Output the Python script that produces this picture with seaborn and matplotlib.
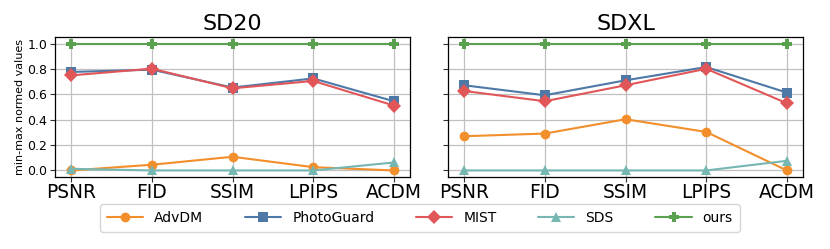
import numpy as np
import pandas as pd
import matplotlib
matplotlib.use("Agg")
import matplotlib.pyplot as plt
import seaborn as sns

# --- data ---
metrics = ["PSNR", "FID", "SSIM", "LPIPS", "ACDM"]
methods = ["AdvDM", "PhotoGuard", "MIST", "SDS", "ours"]

sd20_advdm = [0.0, 0.045, 0.108, 0.026, 0.0]
sd20_photoguard = [0.777, 0.795, 0.654, 0.726, 0.546]
sd20_mist = [0.750, 0.803, 0.648, 0.706, 0.512]
sd20_sds = [0.013, 0.0, 0.0, 0.0, 0.063]
sd20_ours = [1.0, 1.0, 1.0, 1.0, 1.0]

sdxl_advdm = [0.270, 0.291, 0.404, 0.304, 0.0]
sdxl_photoguard = [0.672, 0.593, 0.711, 0.816, 0.614]
sdxl_mist = [0.627, 0.546, 0.672, 0.802, 0.530]
sdxl_sds = [0.0, 0.0, 0.0, 0.0, 0.076]
sdxl_ours = [1.0, 1.0, 1.0, 1.0, 1.0]

colors = ["#f28e2b", "#4e79a7", "#e15759", "#76b7b2", "#59a14f"]
markers = ["o", "s", "D", "^", "P"]

panels = {
    "SD20": [sd20_advdm, sd20_photoguard, sd20_mist, sd20_sds, sd20_ours],
    "SDXL": [sdxl_advdm, sdxl_photoguard, sdxl_mist, sdxl_sds, sdxl_ours],
}

sns.set_style("ticks")
plt.rcParams["font.family"] = ["DejaVu Sans"]
plt.rcParams["text.color"] = "black"
plt.rcParams["axes.labelcolor"] = "black"
plt.rcParams["xtick.color"] = "black"
plt.rcParams["ytick.color"] = "black"

fig = plt.figure(figsize=(8.3, 2.49), dpi=100)
ax1 = fig.add_axes([0.0663, 0.290, 0.4277, 0.560])
ax2 = fig.add_axes([0.5398, 0.290, 0.4277, 0.560], sharey=ax1)
axes = [ax1, ax2]

for ax, (title, series) in zip(axes, panels.items()):
    x = np.arange(len(metrics))
    for name, vals, c, m in zip(methods, series, colors, markers):
        df = pd.DataFrame({"x": x, "y": vals})
        sns.lineplot(data=df, x="x", y="y", ax=ax, color=c, marker=m,
                     markersize=7, markeredgewidth=0, linewidth=1.5,
                     label=name, legend=False)
    ax.set_xticks(x)
    ax.set_xticklabels(metrics, fontsize=13.4)
    ax.set_xlim(-0.2, 4.2)
    ax.set_ylim(-0.05, 1.05)
    ax.set_yticks([0.0, 0.2, 0.4, 0.6, 0.8, 1.0])
    ax.grid(True, color="#c0c0c0", linewidth=0.9)
    ax.set_axisbelow(True)
    ax.set_title(title, fontsize=16, pad=5)
    ax.set_xlabel("")
    ax.set_ylabel("")
    ax.tick_params(axis="both", length=3.5, width=0.8, color="#333333")
    ax.tick_params(axis="x", pad=1)
    for sp in ax.spines.values():
        sp.set_visible(True)
        sp.set_color("black")
        sp.set_linewidth(0.9)

ax1.set_ylabel("min-max normed values", fontsize=8, labelpad=2)
ax1.tick_params(axis="y", labelsize=9, pad=2)
ax2.tick_params(axis="y", labelleft=False)

handles, labels = ax1.get_legend_handles_labels()
fig.legend(handles, labels, loc="center", bbox_to_anchor=(0.506, 0.124),
           ncol=5, fontsize=10, frameon=True, columnspacing=3.0,
           handlelength=2.6, borderpad=0.5)

fig.savefig("out.png", dpi=100)
